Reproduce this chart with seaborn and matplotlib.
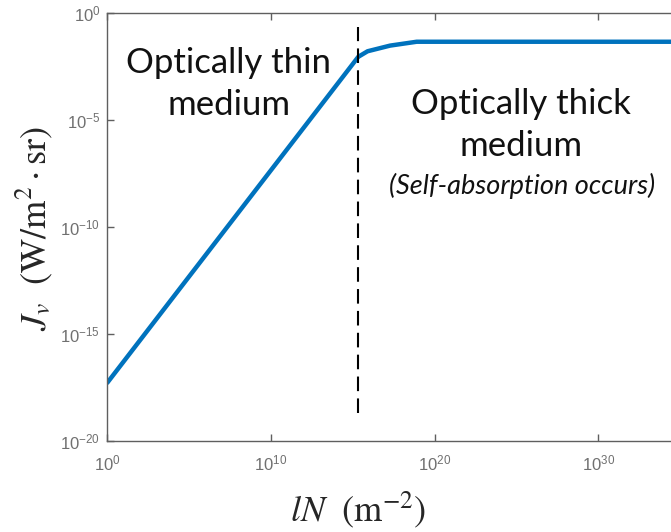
import matplotlib
matplotlib.use("Agg")
import matplotlib.pyplot as plt
import seaborn as sns
import pandas as pd

# Emitted intensity versus column density (log-log), read as sampled points
column_density = [1e0, 2.14e15, 7.9e15, 1.86e17, 7.9e18, 2.7e34]
intensity = [5.1e-18, 8.7e-3, 1.58e-2, 2.9e-2, 4.4e-2, 4.4e-2]

# Transition between the thin and thick regimes
threshold_density = 2.14e15
threshold_span = [2.0e-19, 2.1e-1]

x_ticks = [1e0, 1e10, 1e20, 1e30]
y_ticks = [1e-20, 1e-15, 1e-10, 1e-5, 1e0]
x_range = [1e0, 2.7e34]
y_range = [1e-20, 1e0]

sns.set_theme(style="white")
plt.rcParams["font.family"] = ["Liberation Sans", "DejaVu Sans"]
plt.rcParams["mathtext.fontset"] = "stix"

df = pd.DataFrame({"N": column_density, "J": intensity})

fig = plt.figure(figsize=(6.71, 5.32), dpi=100)
ax = fig.add_axes([0.1599, 0.1716, 0.8401, 0.8045])

ax.set_xscale("log")
ax.set_yscale("log")
sns.lineplot(data=df, x="N", y="J", ax=ax, color="#0072BD", linewidth=3.2,
             sort=True, estimator=None)

ax.plot([threshold_density, threshold_density], threshold_span,
         color="black", linewidth=1.5, dashes=(7, 3.5))

ax.set_xlim(*x_range)
ax.set_ylim(*y_range)
ax.set_xticks(x_ticks)
ax.set_yticks(y_ticks)
ax.minorticks_off()

axis_grey = "#5f5f5f"
for side in ["left", "bottom", "top"]:
    ax.spines[side].set_color(axis_grey)
    ax.spines[side].set_linewidth(1.0)
ax.spines["right"].set_visible(False)
ax.tick_params(axis="both", which="major", direction="in", length=5,
               width=1.0, color=axis_grey, labelcolor="#707070",
               labelsize=12, top=True, bottom=True, left=True, right=False)
ax.tick_params(axis="x", pad=9)
ax.tick_params(axis="y", pad=5)

ax.set_xlabel("")
ax.set_ylabel("")
fig.text(358 / 671, 1 - 510 / 532, r"$lN\ \ (\mathrm{m}^{-2})$",
         ha="center", va="center", fontsize=26)
fig.text(34 / 671, 1 - 229 / 532, r"$J_v\ \ (\mathrm{W/m^2\cdot sr})$",
         ha="center", va="center", fontsize=26, rotation=90)

label_font = ["Lato", "DejaVu Sans"]
fig.text(229 / 671, 1 - 84 / 532, "Optically thin\nmedium",
         ha="center", va="center", fontsize=25, family=label_font,
         linespacing=1.35, color="#111111")
fig.text(521 / 671, 1 - 125 / 532, "Optically thick\nmedium",
         ha="center", va="center", fontsize=25, family=label_font,
         linespacing=1.35, color="#111111")
fig.text(522 / 671, 1 - 186 / 532, "(Self-absorption occurs)",
         ha="center", va="center", fontsize=19.5, family=label_font,
         style="italic", color="#111111")

fig.savefig("out.png", dpi=100)
